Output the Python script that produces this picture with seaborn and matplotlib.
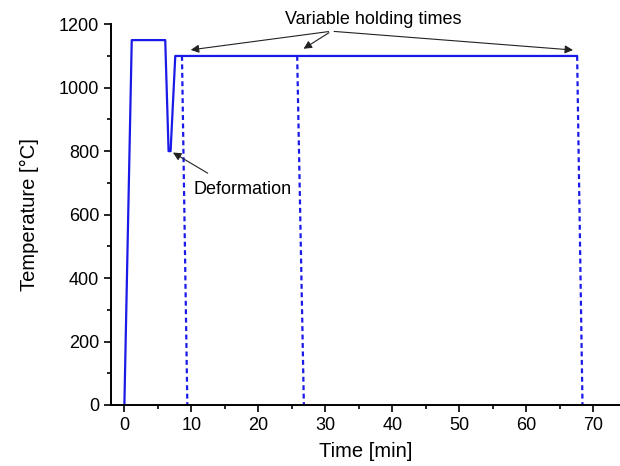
import numpy as np
import pandas as pd
import matplotlib
matplotlib.use("Agg")
import matplotlib.pyplot as plt
import seaborn as sns

# 온도 프로파일 데이터
profile_time = [0, 1.1, 6.1, 6.6, 6.9, 7.6, 67.6]
profile_temp = [0, 1150, 1150, 800, 800, 1100, 1100]

# 유지 시간 이후 냉각 (점선)
cool_start = [8.6, 25.8, 67.6]
cool_end = [9.4, 26.8, 68.4]
hold_temp = 1100

x_ticks = [0, 10, 20, 30, 40, 50, 60, 70]
y_ticks = [0, 200, 400, 600, 800, 1000, 1200]

sns.set_style("ticks")
plt.rcParams['font.family'] = ['Liberation Sans', 'DejaVu Sans']
plt.rcParams['text.color'] = 'black'
plt.rcParams['axes.labelcolor'] = 'black'
plt.rcParams['xtick.color'] = 'black'
plt.rcParams['ytick.color'] = 'black'

fig = plt.figure(figsize=(6.2, 4.66), dpi=100)
ax = fig.add_axes([0.179, 0.131, 0.821, 0.817])

blue = '#1a1ae8'
df = pd.DataFrame({'time': profile_time, 'temp': profile_temp})
sns.lineplot(data=df, x='time', y='temp', sort=False, color=blue, linewidth=1.6, ax=ax)

for t0, t1 in zip(cool_start, cool_end):
    d = pd.DataFrame({'time': [t0, t1], 'temp': [hold_temp, 0]})
    sns.lineplot(data=d, x='time', y='temp', sort=False, color=blue, linewidth=1.6,
                 linestyle=(0, (2.2, 1.6)), ax=ax)

ax.set_xlim(-2, 74)
ax.set_ylim(0, 1200)
ax.set_xticks(x_ticks)
ax.set_yticks(y_ticks)
ax.set_xticks(np.arange(5, 74, 10), minor=True)
ax.set_yticks(np.arange(100, 1200, 200), minor=True)
ax.tick_params(axis='both', which='major', length=5, width=1.2, labelsize=13, color='black')
ax.tick_params(axis='both', which='minor', length=3, width=1.2, color='black')
for s in ['left', 'bottom']:
    ax.spines[s].set_linewidth(1.4)
    ax.spines[s].set_color('black')
sns.despine(ax=ax)

ax.set_xlabel('Time [min]', fontsize=14.5, labelpad=6)
ax.set_ylabel('Temperature [°C]', fontsize=14.5, labelpad=14)

# 주석
arrow = dict(arrowstyle='-|>', color='#222222', lw=0.8, mutation_scale=12)
ax.text(37.1, 1216, 'Variable holding times', fontsize=13, ha='center', va='center', clip_on=False)
for tx in [9.5, 26.4, 67.4]:
    ax.annotate('', xy=(tx, 1118), xytext=(30.9, 1178), arrowprops=arrow, annotation_clip=False)

ax.annotate('', xy=(6.9, 800), xytext=(12.8, 726), arrowprops=arrow)
ax.text(10.3, 679, 'Deformation', fontsize=13, ha='left', va='center')

fig.savefig('out.png', dpi=100)
